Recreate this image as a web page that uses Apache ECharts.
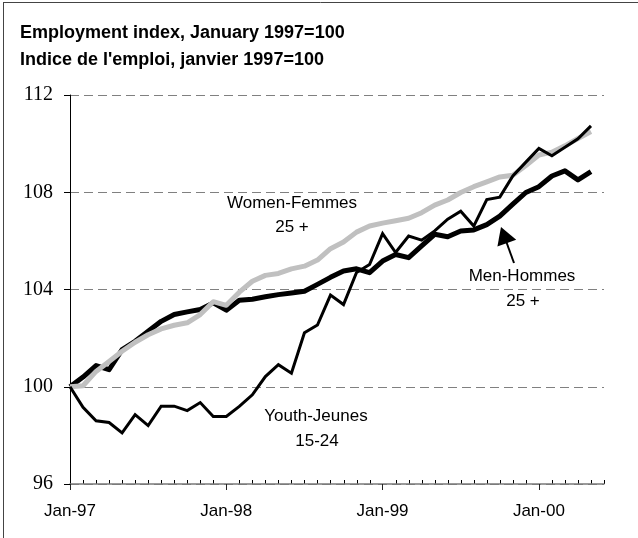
<!DOCTYPE html>
<html>
<head>
<meta charset="utf-8">
<script src="https://cdn.jsdelivr.net/npm/echarts@6/dist/echarts.min.js"></script>
<style>
  html, body { margin: 0; padding: 0; background: #fff; }
  #chart { width: 638px; height: 538px; }
</style>
</head>
<body>
<div id="chart"></div>
<script>
// month labels Jan-97 .. Jun-00 (last one is just the end of the axis)
const monthNames = ['Jan','Feb','Mar','Apr','May','Jun','Jul','Aug','Sep','Oct','Nov','Dec'];
const years = ['97','98','99','00'];
const categories = [];
years.forEach(y => monthNames.forEach(m => categories.push(m + '-' + y)));
categories.length = 42;

const menValues = [100, 100.4, 100.87, 100.7, 101.53, 101.87, 102.28, 102.69, 102.97, 103.08,
    103.18, 103.45, 103.15, 103.56, 103.6, 103.7, 103.79, 103.86, 103.93, 104.21,
    104.5, 104.76, 104.85, 104.69, 105.17, 105.44, 105.31, 105.79, 106.27, 106.17,
    106.41, 106.45, 106.67, 107.02, 107.51, 107.99, 108.23, 108.67, 108.88, 108.51, 108.85];

const womenValues = [100, 100.04, 100.63, 101.04, 101.46, 101.83, 102.14, 102.38, 102.53, 102.63,
    102.97, 103.5, 103.35, 103.89, 104.34, 104.58, 104.66, 104.85, 104.96, 105.21,
    105.68, 105.95, 106.36, 106.61, 106.73, 106.83, 106.93, 107.16, 107.47, 107.68,
    107.99, 108.23, 108.43, 108.63, 108.7, 109.1, 109.53, 109.65, 109.91, 110.21, 110.5];

const youthValues = [100, 99.15, 98.6, 98.53, 98.1, 98.85, 98.4, 99.2, 99.2, 99.02,
    99.35, 98.78, 98.78, 99.19, 99.67, 100.42, 100.91, 100.56, 102.22, 102.54,
    103.77, 103.38, 104.7, 105.03, 106.3, 105.52, 106.2, 106.03, 106.41, 106.89,
    107.22, 106.61, 107.7, 107.8, 108.67, 109.24, 109.8, 109.5, 109.85, 110.2, 110.73];

const yTicks = [96, 100, 104, 108, 112];

const chart = echarts.init(document.getElementById('chart'), null, {renderer: 'canvas'});

const sans = 'Liberation Sans, Arial, sans-serif';
const serif = 'Liberation Serif, Times New Roman, serif';

const option = {
    animation: false,
    backgroundColor: '#fff',
    title: {
        text: 'Employment index, January 1997=100\nIndice de l\'emploi, janvier 1997=100',
        left: 20,
        top: 20,
        padding: 0,
        textStyle: {
            fontFamily: sans,
            fontSize: 18,
            fontWeight: 'bold',
            color: '#000',
            lineHeight: 27
        }
    },
    grid: {
        left: 70,
        right: 34,
        top: 95,
        bottom: 54
    },
    xAxis: {
        type: 'category',
        data: categories,
        boundaryGap: false,
        axisLine: { lineStyle: { color: '#7a7a7a', width: 1.5 } },
        axisTick: {
            show: true,
            length: 6,
            interval: (i) => i % 12 === 0,
            lineStyle: { color: '#222' }
        },
        axisLabel: {
            interval: (i) => i % 12 === 0,
            margin: 19,
            fontFamily: sans,
            fontSize: 17,
            color: '#000'
        },
        splitLine: { show: false }
    },
    yAxis: {
        type: 'value',
        min: yTicks[0],
        max: yTicks[yTicks.length - 1],
        interval: 4,
        axisLine: { show: true, lineStyle: { color: '#000', width: 1 } },
        axisTick: { show: true, length: 6, lineStyle: { color: '#000' } },
        axisLabel: {
            margin: 17,
            fontFamily: serif,
            fontSize: 20,
            color: '#000'
        },
        splitLine: {
            show: true,
            lineStyle: { color: '#808080', type: [9, 5], width: 1 }
        }
    },
    series: [
        {
            name: 'Men-Hommes 25 +',
            type: 'line',
            data: menValues,
            showSymbol: false,
            symbol: 'none',
            lineStyle: { color: '#000', width: 5, join: 'round' },
            z: 2
        },
        {
            name: 'Women-Femmes 25 +',
            type: 'line',
            data: womenValues,
            showSymbol: false,
            symbol: 'none',
            lineStyle: { color: '#c0c0c0', width: 5, join: 'round' },
            z: 3
        },
        {
            name: 'Youth-Jeunes 15-24',
            type: 'line',
            data: youthValues,
            showSymbol: false,
            symbol: 'none',
            lineStyle: { color: '#000', width: 3, join: 'miter' },
            z: 4
        }
    ],
    graphic: [
        // frame at top and left
        { type: 'line', shape: { x1: 3, y1: 2.5, x2: 638, y2: 2.5 }, style: { stroke: '#444', lineWidth: 1 } },
        { type: 'line', shape: { x1: 3.5, y1: 2, x2: 3.5, y2: 538 }, style: { stroke: '#444', lineWidth: 1 } },
        // series annotations
        { type: 'text', x: 292, y: 203, style: { text: 'Women-Femmes', font: '17px ' + sans, fill: '#000', align: 'center', verticalAlign: 'middle' } },
        { type: 'text', x: 292, y: 227, style: { text: '25 +', font: '17px ' + sans, fill: '#000', align: 'center', verticalAlign: 'middle' } },
        { type: 'text', x: 522, y: 276, style: { text: 'Men-Hommes', font: '17px ' + sans, fill: '#000', align: 'center', verticalAlign: 'middle' } },
        { type: 'text', x: 523, y: 301, style: { text: '25 +', font: '17px ' + sans, fill: '#000', align: 'center', verticalAlign: 'middle' } },
        { type: 'text', x: 316, y: 416, style: { text: 'Youth-Jeunes', font: '17px ' + sans, fill: '#000', align: 'center', verticalAlign: 'middle' } },
        { type: 'text', x: 317, y: 441, style: { text: '15-24', font: '17px ' + sans, fill: '#000', align: 'center', verticalAlign: 'middle' } },
        // arrow pointing at the men line
        { type: 'line', shape: { x1: 514, y1: 263, x2: 506, y2: 241 }, style: { stroke: '#000', lineWidth: 2 } },
        { type: 'polygon', shape: { points: [[501, 227], [497.4, 246.5], [516.2, 239.7]] }, style: { fill: '#000' } }
    ]
};

chart.setOption(option);

// small monthly ticks pointing up from the x axis, placed through the axis scale
const minorTicks = [];
categories.forEach((c, i) => {
    if (i % 12 === 0) return;
    const p = chart.convertToPixel({gridIndex: 0}, [i, yTicks[0]]);
    if (!p) return;
    const x = Math.round(p[0]) + 0.5;
    minorTicks.push({
        type: 'line',
        silent: true,
        shape: { x1: x, y1: p[1] - 4, x2: x, y2: p[1] },
        style: { stroke: '#000', lineWidth: 1 }
    });
});
chart.setOption({ graphic: option.graphic.concat(minorTicks) });

window.addEventListener('resize', chart.resize);
</script>
</body>
</html>
